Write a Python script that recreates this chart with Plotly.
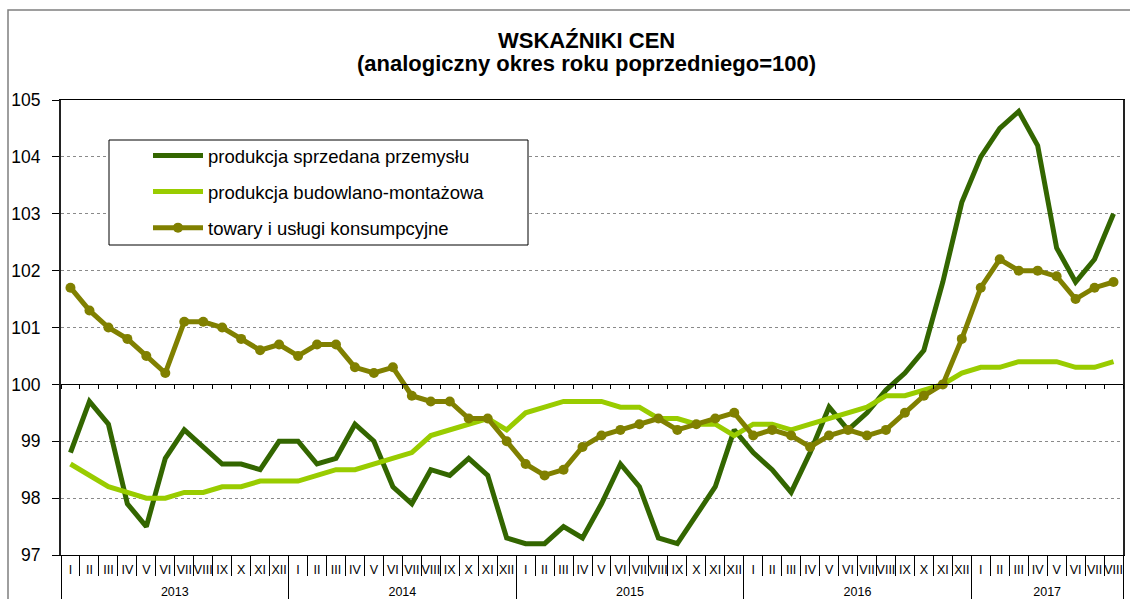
import plotly.graph_objects as go

years = ["2013", "2014", "2015", "2016", "2017"]
months_per_year = [12, 12, 12, 12, 8]
month_names = ["I", "II", "III", "IV", "V", "VI", "VII", "VIII", "IX", "X", "XI", "XII"]

prod_sprzedana = [98.8, 99.7, 99.3, 97.9, 97.5, 98.7, 99.2, 98.9, 98.6, 98.6, 98.5, 99.0,
                  99.0, 98.6, 98.7, 99.3, 99.0, 98.2, 97.9, 98.5, 98.4, 98.7, 98.4, 97.3,
                  97.2, 97.2, 97.5, 97.3, 97.9, 98.6, 98.2, 97.3, 97.2, 97.7, 98.2, 99.2,
                  98.8, 98.5, 98.1, 98.8, 99.6, 99.2, 99.5, 99.9, 100.2, 100.6, 101.8, 103.2,
                  104.0, 104.5, 104.8, 104.2, 102.4, 101.8, 102.2, 103.0]
prod_budowlana = [98.6, 98.4, 98.2, 98.1, 98.0, 98.0, 98.1, 98.1, 98.2, 98.2, 98.3, 98.3,
                  98.3, 98.4, 98.5, 98.5, 98.6, 98.7, 98.8, 99.1, 99.2, 99.3, 99.4, 99.2,
                  99.5, 99.6, 99.7, 99.7, 99.7, 99.6, 99.6, 99.4, 99.4, 99.3, 99.3, 99.1,
                  99.3, 99.3, 99.2, 99.3, 99.4, 99.5, 99.6, 99.8, 99.8, 99.9, 100.0, 100.2,
                  100.3, 100.3, 100.4, 100.4, 100.4, 100.3, 100.3, 100.4]
towary_uslugi = [101.7, 101.3, 101.0, 100.8, 100.5, 100.2, 101.1, 101.1, 101.0, 100.8, 100.6, 100.7,
                 100.5, 100.7, 100.7, 100.3, 100.2, 100.3, 99.8, 99.7, 99.7, 99.4, 99.4, 99.0,
                 98.6, 98.4, 98.5, 98.9, 99.1, 99.2, 99.3, 99.4, 99.2, 99.3, 99.4, 99.5,
                 99.1, 99.2, 99.1, 98.9, 99.1, 99.2, 99.1, 99.2, 99.5, 99.8, 100.0, 100.8,
                 101.7, 102.2, 102.0, 102.0, 101.9, 101.5, 101.7, 101.8]
series_names = ["produkcja sprzedana przemysłu", "produkcja budowlano-montażowa",
                "towary i usługi konsumpcyjne"]
y_ticks = [97, 98, 99, 100, 101, 102, 103, 104, 105]
title_lines = ["WSKAŹNIKI CEN", "(analogiczny okres roku poprzedniego=100)"]

# derived category positions
month_labels = []
year_centers = []
year_bounds = [-0.5]
start = 0
for yr, n in zip(years, months_per_year):
    month_labels += month_names[:n]
    year_centers.append(start + (n - 1) / 2)
    start += n
    year_bounds.append(start - 0.5)
n_pts = len(month_labels)
xi = list(range(n_pts))
boundaries = [i - 0.5 for i in range(n_pts + 1)]

FONT = "Liberation Sans, Arial, sans-serif"

# plot area on screen: x 61..1123, y 100..555 (page body margin removed below)
PX_L, PX_R, PX_T, PX_B = 61, 1123, 100, 555
PW, PH = PX_R - PX_L, PX_B - PX_T


def px(xs):
    return (xs - PX_L) / PW


def py(ys):
    return (PX_B - ys) / PH


fig = go.Figure()
fig.add_trace(go.Scatter(x=xi, y=prod_sprzedana, name=series_names[0], text=month_labels,
                         mode="lines", line=dict(color="#336600", width=5), legendgroup="a"))
fig.add_trace(go.Scatter(x=xi, y=prod_budowlana, name=series_names[1], text=month_labels,
                         mode="lines", line=dict(color="#99CC00", width=5), legendgroup="b"))
fig.add_trace(go.Scatter(x=xi, y=towary_uslugi, name=series_names[2], text=month_labels,
                         mode="lines+markers", line=dict(color="#808000", width=5),
                         marker=dict(color="#808000", size=10), legendgroup="c"))
# helper (invisible) traces so the overlay axes are drawn
for ax in ["x2", "x3"]:
    fig.add_trace(go.Scatter(x=[-0.5, n_pts - 0.5], y=[100, 100], xaxis=ax, mode="lines",
                             line=dict(width=0, color="rgba(0,0,0,0)"), showlegend=False,
                             hoverinfo="skip"))

fig.update_layout(
    width=1130, height=599, autosize=False,
    margin=dict(l=PX_L, r=1130 - PX_R, t=PX_T, b=599 - PX_B),
    paper_bgcolor="white", plot_bgcolor="white",
    font=dict(family=FONT, color="black"),
    showlegend=True,
    legend=dict(x=px(148), y=py(137), xanchor="left", yanchor="top",
                bgcolor="rgba(0,0,0,0)", borderwidth=0,
                font=dict(family=FONT, size=18.5, color="black"),
                tracegroupgap=9, itemwidth=50),
    # month labels + month separators
    xaxis=dict(range=[-0.5, n_pts - 0.5], automargin=False,
               showline=True, linecolor="black", linewidth=1, mirror=True,
               tickmode="array", tickvals=xi, ticktext=month_labels, ticks="",
               ticklabelstandoff=3, tickangle=0,
               tickfont=dict(family=FONT, size=12.5, color="black"),
               minor=dict(tickmode="array", tickvals=boundaries, ticks="outside",
                          ticklen=20, tickcolor="black", tickwidth=1, showgrid=False),
               showgrid=False, zeroline=False),
    # crossing axis at 100
    xaxis2=dict(overlaying="x", anchor="free", position=(100 - 97) / (105 - 97),
                range=[-0.5, n_pts - 0.5], showline=True, linecolor="black", linewidth=1,
                ticks="outside", tickvals=boundaries, ticklen=4, tickcolor="black",
                showticklabels=False, showgrid=False, zeroline=False, automargin=False),
    # year labels + year dividers
    xaxis3=dict(overlaying="x", anchor="y", side="bottom",
                range=[-0.5, n_pts - 0.5], showline=False, mirror=False,
                tickmode="array", tickvals=year_centers, ticktext=years, ticks="",
                ticklabelstandoff=27, tickangle=0,
                tickfont=dict(family=FONT, size=12.5, color="black"),
                minor=dict(tickmode="array", tickvals=year_bounds, ticks="outside",
                           ticklen=50, tickcolor="black", tickwidth=1, showgrid=False),
                showgrid=False, zeroline=False, automargin=False),
    yaxis=dict(range=[97, 105], tickvals=y_ticks, showline=True, linecolor="#222222",
               linewidth=2, mirror=True, ticks="outside", ticklen=7, tickcolor="black",
               tickfont=dict(family=FONT, size=17.5, color="black"), ticklabelstandoff=8,
               showgrid=True, gridcolor="#8a8a8a", griddash="dot", gridwidth=1,
               zeroline=False, automargin=False),
)
for txt, yc in zip(title_lines, [40, 63]):
    fig.add_annotation(text="<b>" + txt + "</b>", xref="paper", yref="paper",
                       x=px(586), y=py(yc), xanchor="center", yanchor="middle",
                       showarrow=False, font=dict(family=FONT, size=22, color="black"))
# outer chart frame (only left and top edges are inside the view) and legend frame
fx0, fy1 = px(8), py(10)
fig.add_shape(type="path", xref="paper", yref="paper",
              path=f"M {fx0},-0.2 L {fx0},{fy1} L 1.05,{fy1}",
              line=dict(color="#7f7f7f", width=1.5), layer="below")
fig.add_shape(type="rect", xref="paper", yref="paper", x0=px(109),
              x1=px(528), y0=py(245), y1=py(140),
              line=dict(color="black", width=1), fillcolor="white", layer="above")

fig.write_html("out.html", config={"displayModeBar": False},
               post_script="document.body.style.margin='0';"
                           "document.body.style.overflow='hidden';")
